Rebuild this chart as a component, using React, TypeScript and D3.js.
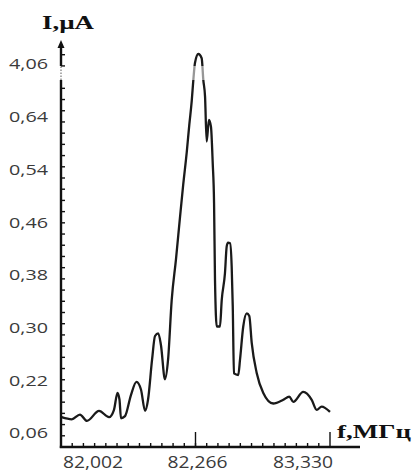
import * as d3 from "d3";
import React from "react";

// tick labels (the axis is not linear: labels sit at equal steps)
const yLabels = ["0,06", "0,22", "0,30", "0,38", "0,46", "0,54", "0,64", "4,06"];
const xLabels = ["82,002", "82,266", "83,330"];

// curve, in axis units (x: label step, y: label step)
const curveX = [
  0.005, 0.08, 0.141, 0.193, 0.283, 0.357, 0.394, 0.42, 0.435, 0.446, 0.476, 0.52, 0.561, 0.595, 0.625,
  0.647, 0.677, 0.699, 0.723, 0.743, 0.773, 0.796, 0.823, 0.855, 0.885, 0.909, 0.935, 0.954, 0.972, 0.984,
  0.996, 1.021, 1.046, 1.058, 1.071, 1.083, 1.1, 1.115, 1.128, 1.138, 1.145, 1.158, 1.182, 1.195, 1.219,
  1.232, 1.242, 1.257, 1.269, 1.277, 1.286, 1.318, 1.331, 1.355, 1.381, 1.4, 1.418, 1.455, 1.504, 1.578,
  1.653, 1.697, 1.727, 1.801, 1.864, 1.901, 1.938, 2.0,
];
const curveY = [
  0.3, 0.26, 0.35, 0.23, 0.42, 0.3, 0.44, 0.76, 0.63, 0.28, 0.32, 0.72, 0.97, 0.82, 0.42,
  0.63, 1.39, 1.84, 1.89, 1.67, 1.02, 1.39, 2.52, 3.3, 4.1, 4.72, 5.33, 5.85, 6.3, 6.7,
  7.02, 7.19, 7.11, 6.7, 6.38, 5.53, 5.94, 5.81, 5.12, 4.36, 2.9, 2.02, 2.02, 2.52, 3.03,
  3.54, 3.61, 3.6, 3.16, 2.4, 1.13, 1.1, 1.39, 2.02, 2.27, 2.22, 1.71, 1.14, 0.76, 0.56,
  0.63, 0.69, 0.59, 0.78, 0.63, 0.44, 0.5, 0.4,
];

export default function App() {
  const width = 413;
  const height = 472;
  const originX = 61;
  const originY = 447;

  const x = d3.scaleLinear().domain([0, 2]).range([originX, 330]);
  const y = d3.scaleLinear().domain([0, 7]).range([433, 64]);

  const xEnd = 360;
  const yTop = 40;
  const minorStep = (x(1) - x(0)) / 12;
  const xMinor = d3.range(1, 24).map((i) => x(i / 12));
  const yMinor = d3.range(originY - minorStep, yTop + 8, -minorStep);

  const points = curveX.map((v, i) => [x(v), y(curveY[i])] as [number, number]);
  const line = d3.line().curve(d3.curveMonotoneX)(points) ?? "";

  const breakTop = 66;
  const breakBottom = 80;
  const ink = "#111";
  const labelColor = "#3a3a3a";

  return (
    <svg
      width={width}
      height={height}
      style={{ position: "absolute", left: 0, top: 0, background: "#fff" }}
    >
      {/* curve */}
      <path d={line} fill="none" stroke="#1a1a1a" strokeWidth={2.3} strokeLinejoin="round" />
      {/* axis break band */}
      <rect x={originX + 2} y={breakTop} width={160} height={breakBottom - breakTop} fill="#fff" opacity={0.55} />

      {/* y axis */}
      <line x1={originX} x2={originX} y1={originY + 1} y2={breakBottom} stroke={ink} strokeWidth={2.4} />
      <line x1={originX} x2={originX} y1={breakBottom} y2={breakTop} stroke="#999" strokeWidth={1.6} strokeDasharray="1.5 1.5" />
      <line x1={originX} x2={originX} y1={breakTop} y2={yTop + 4} stroke={ink} strokeWidth={2.4} />
      <path d={`M${originX - 3.5},${yTop + 8}L${originX},${yTop}L${originX + 3.5},${yTop + 8}Z`} fill={ink} />
      {yMinor
        .filter((py) => py > breakBottom || py < breakTop)
        .map((py, i) => (
          <line key={"ym" + i} x1={originX} x2={originX + 4} y1={py} y2={py} stroke={ink} strokeWidth={1.4} />
        ))}
      {yLabels.map((t, i) => (
        <text
          key={t}
          x={48}
          y={y(i)}
          dy="0.36em"
          textAnchor="end"
          fontFamily="'Open Sans', sans-serif"
          fontSize={15}
          fill={labelColor}
          textLength={39}
          lengthAdjust="spacingAndGlyphs"
        >
          {t}
        </text>
      ))}

      {/* x axis */}
      <line x1={originX - 1.2} x2={xEnd} y1={originY} y2={originY} stroke={ink} strokeWidth={2.4} />
      {xMinor.map((px, i) => (
        <line key={"xm" + i} x1={px} x2={px} y1={originY} y2={originY - 4} stroke={ink} strokeWidth={1.4} />
      ))}
      {[1, 2].map((v) => (
        <line key={"xM" + v} x1={x(v)} x2={x(v)} y1={originY} y2={originY - 15} stroke={ink} strokeWidth={1.4} />
      ))}
      {xLabels.map((t, i) => {
        const anchor = i === 0 ? "start" : i === 1 ? "middle" : "end";
        const dx = i === 0 ? 2 : i === 1 ? 2 : 3;
        return (
          <text
            key={t}
            x={x(i) + dx}
            y={468}
            textAnchor={anchor}
            fontFamily="'Open Sans', sans-serif"
            fontSize={16}
            fill={labelColor}
            textLength={60}
            lengthAdjust="spacingAndGlyphs"
          >
            {t}
          </text>
        );
      })}

      {/* axis titles */}
      <text
        x={42}
        y={29}
        fontFamily="'Liberation Serif', serif"
        fontWeight="bold"
        fontSize={18}
        fill={ink}
        textLength={52}
        lengthAdjust="spacingAndGlyphs"
      >
        I,µA
      </text>
      <text
        x={337}
        y={438}
        fontFamily="'Liberation Serif', serif"
        fontWeight="bold"
        fontSize={19}
        fill={ink}
        textLength={74}
        lengthAdjust="spacingAndGlyphs"
      >
        f,МГц
      </text>
    </svg>
  );
}
